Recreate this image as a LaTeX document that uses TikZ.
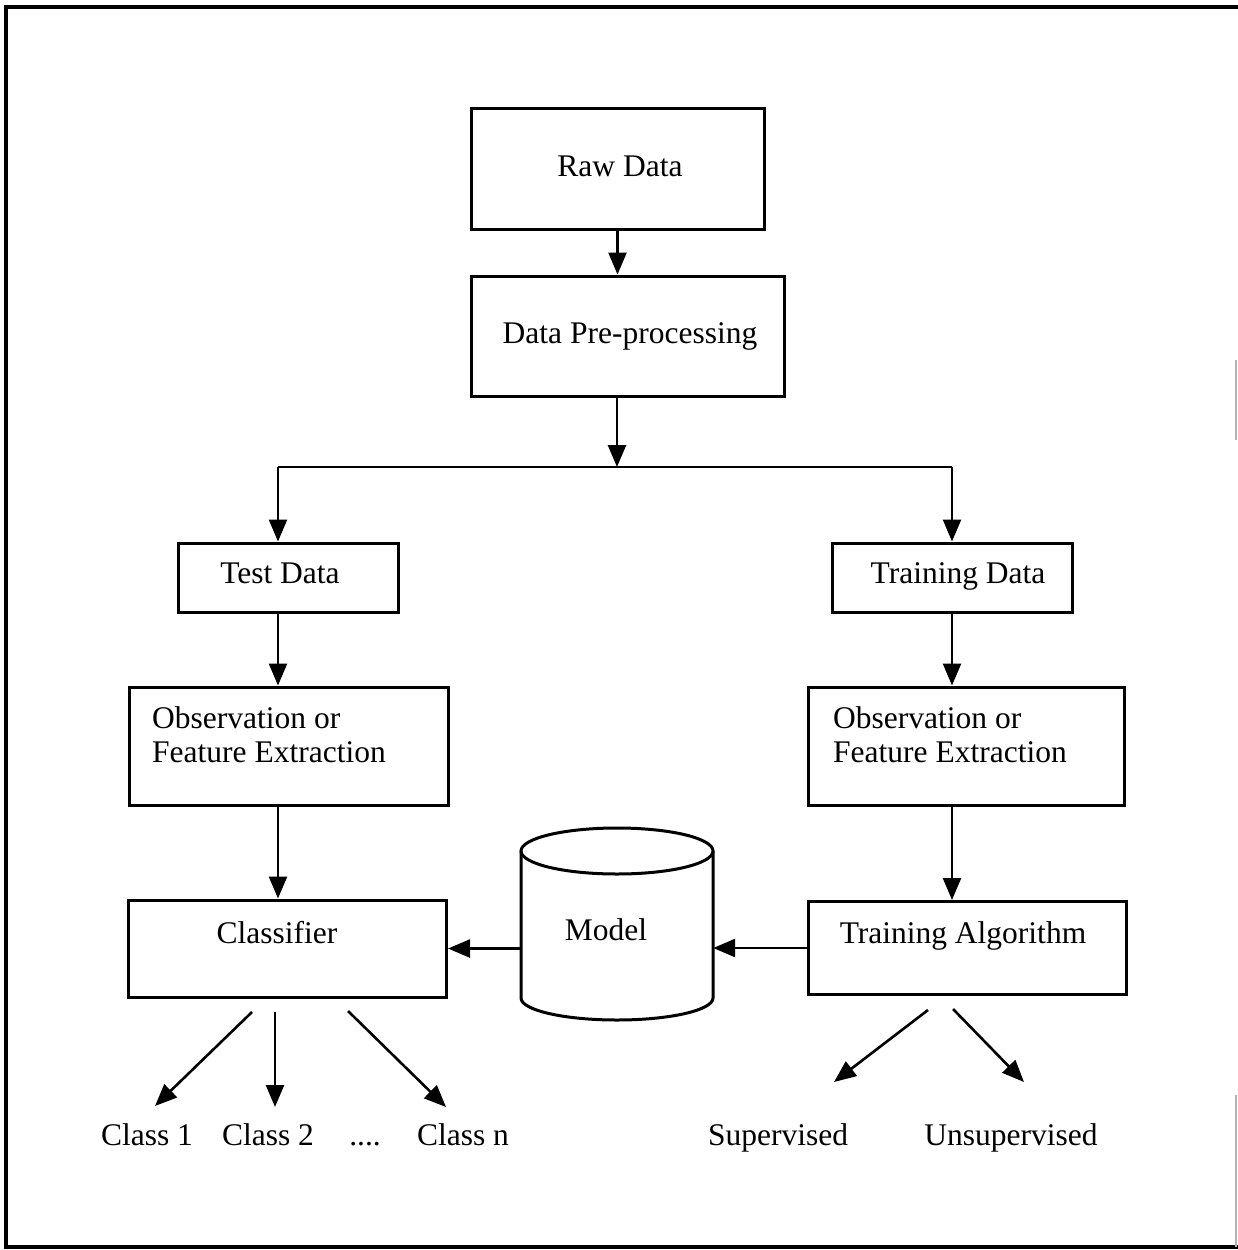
\documentclass[tikz,border=0pt]{standalone}
\usepackage{fontspec}
\setmainfont{Liberation Serif}
\usetikzlibrary{arrows.meta}
\begin{document}
\begin{tikzpicture}[x=1pt,y=-1pt,
  box/.style={draw, line width=3pt, inner sep=0pt},
  arr/.style={line width=2.6pt, -{Triangle[length=22pt,width=18pt]}},
  lbl/.style={anchor=base, inner sep=0pt, font=\fontsize{31.5}{34}\selectfont},
  lbll/.style={lbl, anchor=base west}]
\useasboundingbox (0,0) rectangle (1238,1250);

% outer frame
\draw[line width=4.5pt] (1238,7) -- (6,7) -- (6,1247) -- (1238,1247);
\draw[gray!60, line width=1.5pt] (1236,360) -- (1236,440) (1236,1095) -- (1236,1247);

% process boxes
\node[box, minimum width=293pt, minimum height=121pt] (raw)   at (617.5,168.5) {};
\node[box, minimum width=313pt, minimum height=120pt] (pre)   at (627.5,336) {};
\node[box, minimum width=220pt, minimum height=69pt]  (test)  at (288,577.5) {};
\node[box, minimum width=240pt, minimum height=69pt]  (train) at (952,577.5) {};
\node[box, minimum width=319pt, minimum height=118pt] (obsL)  at (288.5,746) {};
\node[box, minimum width=316pt, minimum height=118pt] (obsR)  at (966,746) {};
\node[box, minimum width=318pt, minimum height=97pt]  (clf)   at (287.5,948.5) {};
\node[box, minimum width=318pt, minimum height=93pt]  (talg)  at (967,948) {};

% model store (cylinder)
\node[inner sep=0pt, minimum width=192pt, minimum height=192pt] (model) at (617,924) {};
\draw[line width=3pt] (521,851) -- (521,998)
  arc[start angle=180, end angle=360, x radius=96pt, y radius=22pt] -- (713,851);
\draw[line width=3pt] (617,851) ellipse [x radius=96pt, y radius=23pt];

% box texts
\node[lbl] (rawt)   at (620,176) {Raw Data};
\node[lbl] (pret)   at (630,343) {Data Pre-processing};
\node[lbl] (testt)  at (280,583) {Test Data};
\node[lbl] (traint) at (958,583) {Training Data};
\node[lbll] (obsL1) at (152,728) {Observation or};
\node[lbll] (obsL2) at (152,762) {Feature Extraction};
\node[lbll] (obsR1) at (833,728) {Observation or};
\node[lbll] (obsR2) at (833,762) {Feature Extraction};
\node[lbl] (clft)   at (277,943) {Classifier};
\node[lbl] (talgt)  at (963,943) {Training Algorithm};
\node[lbl] (modelt) at (606,940) {Model};

% main flow
\draw[arr] (raw.south) -- (pre.north -| raw.south);
\coordinate (split) at (617,467);
\coordinate (jl) at (278,467);
\coordinate (jr) at (952,467);
\draw[arr] (split |- pre.south) -- (split);
\draw[line width=2.6pt] (jl) -- (jr);
\draw[arr] (jl) -- (jl |- test.north);
\draw[arr] (jr) -- (jr |- train.north);
\draw[arr] (jl |- test.south) -- (jl |- obsL.north);
\draw[arr] (jr |- train.south) -- (jr |- obsR.north);
\draw[arr] (jl |- obsL.south) -- (jl |- clf.north);
\draw[arr] (jr |- obsR.south) -- (jr |- talg.north);
\draw[arr] (model.west |- clf.east) -- (clf.east);
\draw[arr] (talg.west) -- (talg.west -| model.east);

% classifier outputs
\coordinate (c1s) at (252,1012); \coordinate (c1e) at (155,1106);
\coordinate (c2s) at (275,1012); \coordinate (c2e) at (275,1107);
\coordinate (c3s) at (348,1011); \coordinate (c3e) at (446,1107);
\draw[arr] (c1s) -- (c1e);
\draw[arr] (c2s) -- (c2e);
\draw[arr] (c3s) -- (c3e);
\node[lbl] (cls1) at (147,1145) {Class 1};
\node[lbl] (cls2) at (268,1145) {Class 2};
\node[lbl] (dots) at (365,1145) {....};
\node[lbl] (clsn) at (463,1145) {Class n};

% learning types
\coordinate (s1s) at (928,1010); \coordinate (s1e) at (834,1082);
\coordinate (s2s) at (953,1009); \coordinate (s2e) at (1024,1082);
\draw[arr] (s1s) -- (s1e);
\draw[arr] (s2s) -- (s2e);
\node[lbl] (sup)   at (778,1145) {Supervised};
\node[lbl] (unsup) at (1011,1145) {Unsupervised};
\end{tikzpicture}
\end{document}
